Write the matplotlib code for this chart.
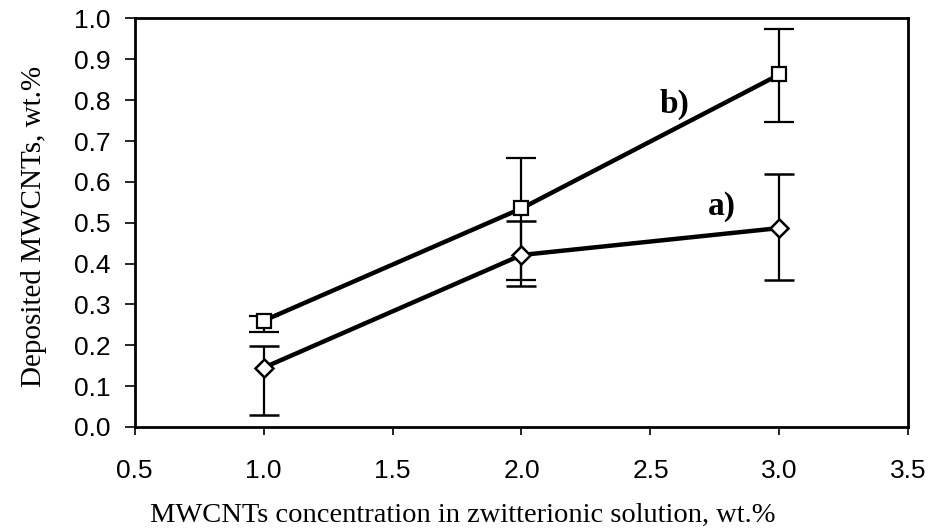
import matplotlib.pyplot as plt

# Data
conc = [1.0, 2.0, 3.0]

dep_a = [0.145, 0.421, 0.487]
err_a_low = [0.115, 0.075, 0.128]
err_a_high = [0.053, 0.083, 0.132]

dep_b = [0.260, 0.535, 0.863]
err_b_low = [0.027, 0.174, 0.116]
err_b_high = [0.012, 0.123, 0.112]

x_ticks = [0.5, 1.0, 1.5, 2.0, 2.5, 3.0, 3.5]
y_ticks = [0.0, 0.1, 0.2, 0.3, 0.4, 0.5, 0.6, 0.7, 0.8, 0.9, 1.0]

fig = plt.figure(figsize=(9.31, 5.31), dpi=100)
ax = fig.add_axes([0.1445, 0.1959, 0.8313, 0.7693])

ax.errorbar(conc, dep_b, yerr=[err_b_low, err_b_high], fmt='-s', color='black',
            lw=3.2, ms=10, mfc='white', mec='black', mew=1.6,
            elinewidth=1.6, capsize=11, capthick=1.6, zorder=3)
ax.errorbar(conc, dep_a, yerr=[err_a_low, err_a_high], fmt='-D', color='black',
            lw=3.2, ms=9, mfc='white', mec='black', mew=1.8,
            elinewidth=1.6, capsize=11, capthick=1.6, zorder=3)

ax.text(2.595, 0.79, "b)", fontsize=24, fontweight='bold', family='Liberation Serif',
        ha='center', va='center')
ax.text(2.777, 0.54, "a)", fontsize=24, fontweight='bold', family='Liberation Serif',
        ha='center', va='center')

ax.set_xlim(0.5, 3.5)
ax.set_ylim(0.0, 1.0)
ax.set_xticks(x_ticks)
ax.set_yticks(y_ticks)
ax.set_xticklabels([f"{v:.1f}" for v in x_ticks], family='Liberation Sans', fontsize=19)
ax.set_yticklabels([f"{v:.1f}" for v in y_ticks], family='Liberation Sans', fontsize=19)
ax.tick_params(axis='x', direction='out', length=6, width=1.2, pad=17)
ax.tick_params(axis='y', direction='out', length=7, width=1.2, pad=10)

for side in ['left', 'right', 'top', 'bottom']:
    ax.spines[side].set_linewidth(2)

ax.set_xlabel("MWCNTs concentration in zwitterionic solution, wt.%",
              family='Liberation Serif', fontsize=20.5)
ax.xaxis.set_label_coords(0.4244, -0.185)
ax.set_ylabel("Deposited MWCNTs, wt.%", family='Liberation Serif', fontsize=21)
ax.yaxis.set_label_coords(-0.113, 0.49)

fig.savefig("out.png", dpi=100)
